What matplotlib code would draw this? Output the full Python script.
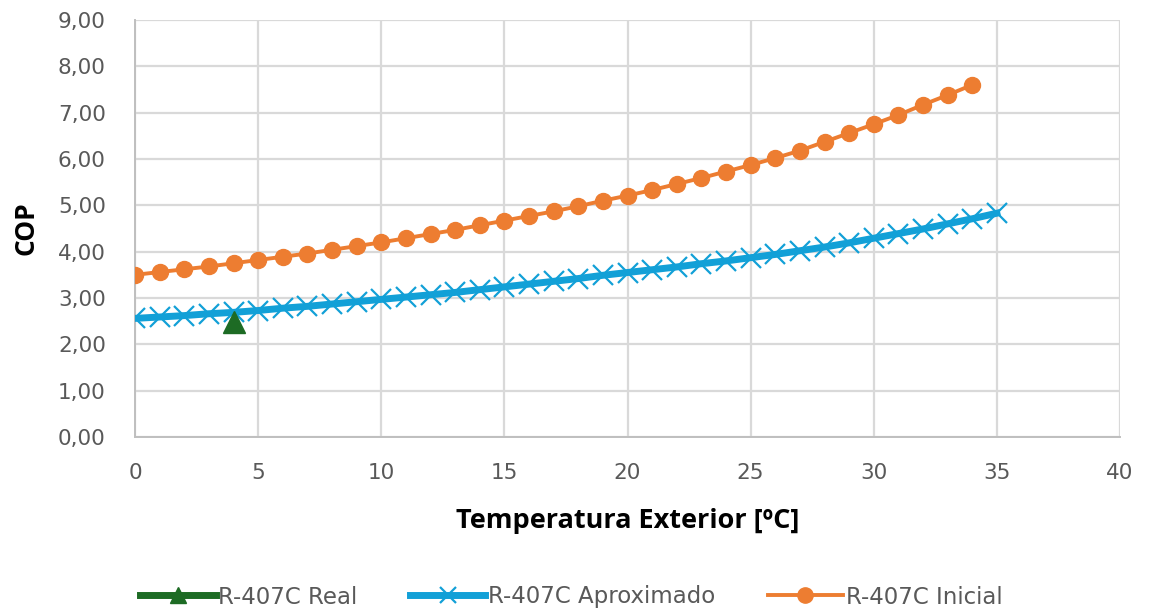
import matplotlib
matplotlib.use("Agg")
import matplotlib.pyplot as plt
from matplotlib.ticker import FuncFormatter, MultipleLocator
from matplotlib.lines import Line2D

# Data
real_x = [4]
real_y = [2.48]

aprox_x = list(range(0, 36))
aprox_y = [2.56, 2.59, 2.62, 2.66, 2.69, 2.73, 2.78, 2.82, 2.87, 2.92,
           2.97, 3.02, 3.07, 3.12, 3.18, 3.24, 3.30, 3.36, 3.42, 3.49,
           3.55, 3.61, 3.67, 3.74, 3.80, 3.87, 3.94, 4.02, 4.10, 4.19,
           4.29, 4.39, 4.49, 4.60, 4.71, 4.83]

inicial_x = list(range(0, 35))
inicial_y = [3.50, 3.56, 3.62, 3.68, 3.75, 3.82, 3.89, 3.96, 4.04, 4.12,
             4.20, 4.29, 4.38, 4.47, 4.57, 4.67, 4.77, 4.87, 4.98, 5.10,
             5.21, 5.33, 5.46, 5.59, 5.73, 5.87, 6.02, 6.18, 6.37, 6.56,
             6.75, 6.95, 7.17, 7.38, 7.60]

labels = ["R-407C Real", "R-407C Aproximado", "R-407C Inicial"]
xlabel = "Temperatura Exterior [ºC]"
ylabel = "COP"

plt.rcParams['font.family'] = ['DejaVu Sans']

fig = plt.figure(figsize=(11.49, 6.09), dpi=100)
ax = fig.add_axes([135/1149, 1 - 437/609, (1120-135)/1149, (437-20)/609])

green = "#1D6B24"
blue = "#12A0D7"
orange = "#ED7D31"

ax.plot(inicial_x, inicial_y, color=orange, lw=2.8, marker='o', ms=11.5,
        label=labels[2], zorder=3)
ax.plot(aprox_x, aprox_y, color=blue, lw=5, marker='x', ms=15, mew=1.6,
        label=labels[1], zorder=3)
ax.plot(real_x, real_y, color=green, marker='^', ms=16,
        label=labels[0], zorder=4, linestyle='none')

ax.set_xlim(0, 40)
ax.set_ylim(0, 9)
ax.xaxis.set_major_locator(MultipleLocator(5))
ax.yaxis.set_major_locator(MultipleLocator(1))
ax.yaxis.set_major_formatter(FuncFormatter(lambda v, p: f"{v:.2f}".replace('.', ',')))

ax.grid(True, color="#d9d9d9", lw=1.6)
ax.set_axisbelow(True)
for s in ['top', 'right']:
    ax.spines[s].set_visible(False)
for s in ['left', 'bottom']:
    ax.spines[s].set_color("#bfbfbf")
    ax.spines[s].set_linewidth(1.4)
ax.tick_params(length=0, labelsize=15.5, labelcolor="#595959")
ax.tick_params(axis='y', pad=21)
ax.tick_params(axis='x', pad=19)

ax.set_xlabel(xlabel, fontsize=19.5, fontweight='bold', labelpad=18,
              family=['Open Sans', 'DejaVu Sans'])
ax.set_ylabel(ylabel, fontsize=19, fontweight='bold', labelpad=13,
              family=['Open Sans', 'DejaVu Sans'])

handles = [
    Line2D([], [], color=green, lw=5, marker='^', ms=12),
    Line2D([], [], color=blue, lw=5, marker='x', ms=12, mew=1.6),
    Line2D([], [], color=orange, lw=2.8, marker='o', ms=11),
]
fig.legend(handles, labels, loc='center', bbox_to_anchor=(0.497, 1 - 597/609),
           ncol=3, frameon=False, fontsize=16.5, handlelength=3.3,
           handletextpad=0.1, columnspacing=2.3, labelcolor="#595959")

fig.savefig("out.png", dpi=100)
